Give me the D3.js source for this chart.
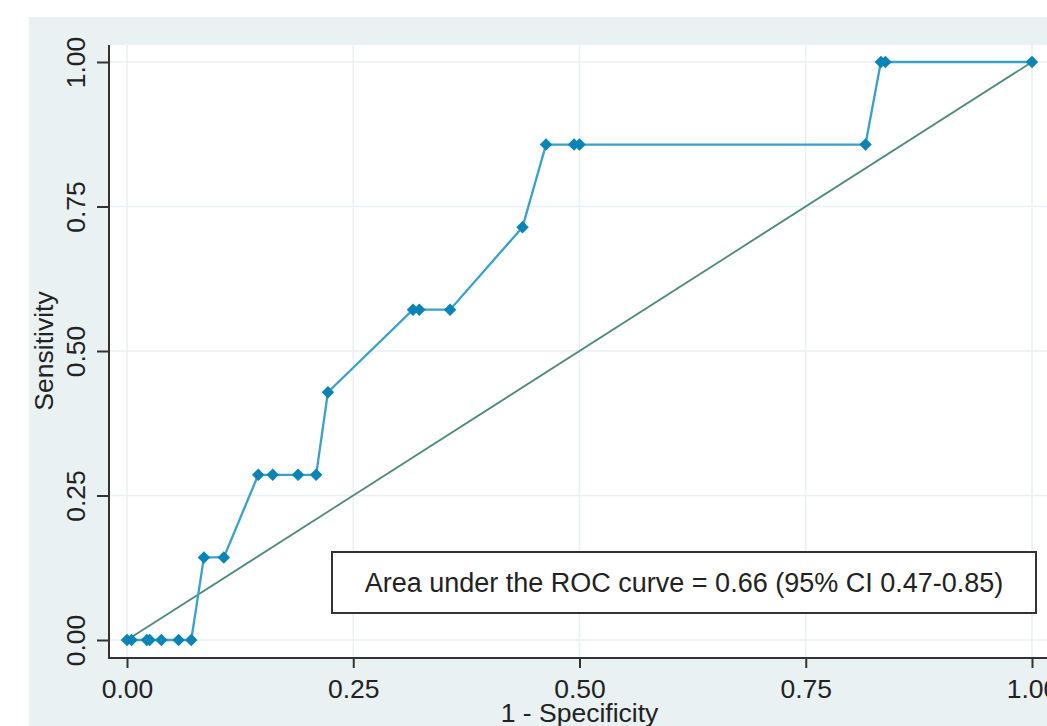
<!DOCTYPE html>
<html><head><meta charset="utf-8">
<script src="https://cdn.jsdelivr.net/npm/d3@7"></script>
<style>body{margin:0;background:#fff}svg{display:block;font-family:"Liberation Sans",Arial,sans-serif}</style>
</head><body>
<svg id="c" width="1047" height="726"></svg>
<script>
const fpr = [0.000,0.005,0.022,0.025,0.038,0.057,0.071,0.085,0.107,0.145,0.161,0.189,0.209,0.222,0.316,0.323,0.357,0.437,0.463,0.494,0.500,0.816,0.833,0.838,1.000];
const sens = [0,0,0,0,0,0,0,1/7,1/7,2/7,2/7,2/7,2/7,3/7,4/7,4/7,4/7,5/7,6/7,6/7,6/7,6/7,1,1,1];
const ticks = [0,0.25,0.5,0.75,1];
const tickLabels = ["0.00","0.25","0.50","0.75","1.00"];
const xTitle = "1 - Specificity";
const yTitle = "Sensitivity";
const legendText = "Area under the ROC curve = 0.66 (95% CI 0.47-0.85)";

const svg = d3.select("#c");
const x = d3.scaleLinear().domain([0,1]).range([127,1032]);
const y = d3.scaleLinear().domain([0,1]).range([640,62]);
const plot = {left:109, top:45, right:1047, bottom:658};

// outer background
svg.append("rect").attr("x",29).attr("y",17).attr("width",1047-29).attr("height",726-17).attr("fill","#e9f1f3");
// plot region
svg.append("rect").attr("x",plot.left).attr("y",plot.top).attr("width",plot.right-plot.left).attr("height",plot.bottom-plot.top).attr("fill","#ffffff");

// gridlines
const grid = svg.append("g").attr("stroke","#e8f1f3").attr("stroke-width",1.5);
grid.selectAll(".gx").data(ticks).join("line").attr("x1",d=>x(d)).attr("x2",d=>x(d)).attr("y1",plot.top).attr("y2",plot.bottom);
grid.selectAll(".gy").data(ticks).join("line").attr("y1",d=>y(d)).attr("y2",d=>y(d)).attr("x1",plot.left).attr("x2",plot.right);

// axes
const fmt = d => tickLabels[ticks.indexOf(d)];
const ax = svg.append("g").attr("transform",`translate(0,${plot.bottom})`)
  .call(d3.axisBottom(x).tickValues(ticks).tickFormat(fmt).tickSize(10).tickSizeOuter(0));
ax.select(".domain").remove();
ax.selectAll("line").attr("stroke","#333").attr("stroke-width",2);
ax.selectAll("text").attr("y",40).attr("dy",0).attr("font-size","26.5px").attr("fill","#222").attr("font-family","Liberation Sans, Arial, sans-serif");

const ay = svg.append("g").attr("transform",`translate(${plot.left},0)`)
  .call(d3.axisLeft(y).tickValues(ticks).tickFormat(fmt).tickSize(12).tickSizeOuter(0));
ay.select(".domain").remove();
ay.selectAll("line").attr("stroke","#333").attr("stroke-width",2);
ay.selectAll("text").attr("transform","rotate(-90)").attr("x",0).attr("y",-24).attr("dy",0)
  .attr("text-anchor","middle").attr("font-size","26.5px").attr("fill","#222").attr("font-family","Liberation Sans, Arial, sans-serif");

svg.append("line").attr("x1",plot.left).attr("x2",plot.left).attr("y1",plot.top).attr("y2",plot.bottom+1).attr("stroke","#333").attr("stroke-width",2);
svg.append("line").attr("x1",plot.left-1).attr("x2",plot.right).attr("y1",plot.bottom).attr("y2",plot.bottom).attr("stroke","#333").attr("stroke-width",2);

// titles
svg.append("text").attr("x",(x(0)+x(1))/2).attr("y",722).attr("text-anchor","middle").attr("font-size","26.5px").attr("fill","#222").text(xTitle);
svg.append("text").attr("transform",`translate(53,${(y(0)+y(1))/2}) rotate(-90)`).attr("text-anchor","middle").attr("font-size","26.5px").attr("fill","#222").text(yTitle);

// diagonal reference
svg.append("line").attr("x1",x(0)).attr("y1",y(0)).attr("x2",x(1)).attr("y2",y(1)).attr("stroke","#4f8a7c").attr("stroke-width",1.8);

// ROC curve
const pts = fpr.map((f,i)=>[f,sens[i]]);
svg.append("path").datum(pts).attr("fill","none").attr("stroke","#3aa1cd").attr("stroke-width",2.3)
  .attr("d",d3.line().x(d=>x(d[0])).y(d=>y(d[1])));
const sym = d3.symbol(d3.symbolSquare,78);
svg.selectAll(".m").data(pts).join("path").attr("d",sym)
  .attr("transform",d=>`translate(${x(d[0])},${y(d[1])}) rotate(45)`).attr("fill","#0a84b6");

// legend box
svg.append("rect").attr("x",332).attr("y",552).attr("width",1036-332).attr("height",613-552)
  .attr("fill","#fff").attr("stroke","#333").attr("stroke-width",2);
svg.append("text").attr("x",(332+1036)/2).attr("y",592).attr("text-anchor","middle").attr("font-size","27px").attr("fill","#222").text(legendText);
</script>
</body></html>
